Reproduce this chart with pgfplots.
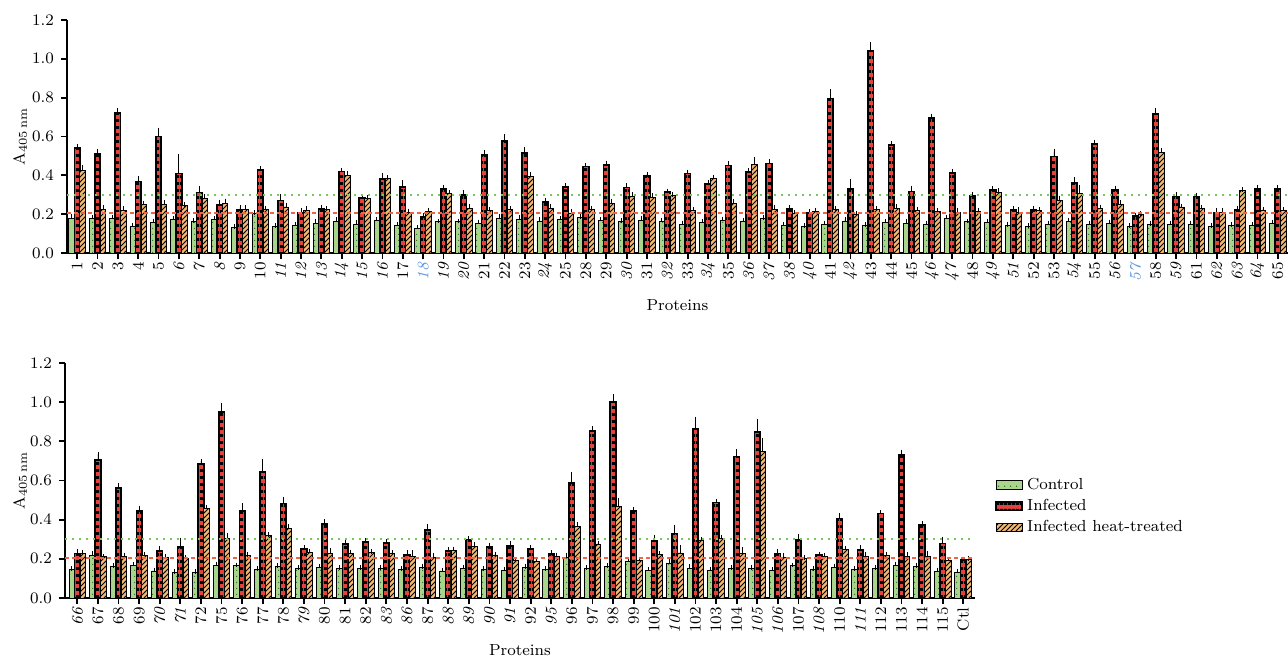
\documentclass[border=0pt]{standalone}
\usepackage{pgfplots}
\pgfplotsset{compat=1.18}
\usepackage{pgfplotstable}
\usetikzlibrary{patterns}

\definecolor{ctrlg}{RGB}{168,212,140}
\definecolor{ctrldot}{RGB}{60,110,50}
\definecolor{infred}{RGB}{228,66,58}
\definecolor{heato}{RGB}{242,184,112}
\definecolor{lineg}{RGB}{120,200,90}
\definecolor{liner}{RGB}{238,100,70}
\definecolor{lblue}{RGB}{90,150,225}

\pgfdeclarepatternformonly{hbands}{\pgfpointorigin}{\pgfqpoint{2pt}{3.3pt}}{\pgfqpoint{2pt}{3.3pt}}{%
  \pgfpathrectangle{\pgfpointorigin}{\pgfqpoint{2pt}{1.5pt}}\pgfusepath{fill}}
\pgfdeclarepatternformonly{hatch}{\pgfqpoint{-1pt}{-1pt}}{\pgfqpoint{3.5pt}{3.5pt}}{\pgfqpoint{2.5pt}{2.5pt}}{%
  \pgfsetlinewidth{0.45pt}\pgfpathmoveto{\pgfqpoint{0pt}{0pt}}\pgfpathlineto{\pgfqpoint{2.6pt}{2.6pt}}\pgfusepath{stroke}}
\pgfdeclarepatternformonly{gdots}{\pgfpointorigin}{\pgfqpoint{3pt}{3pt}}{\pgfqpoint{3pt}{3pt}}{%
  \pgfpathrectangle{\pgfqpoint{1.2pt}{1.2pt}}{\pgfqpoint{0.6pt}{0.6pt}}\pgfusepath{fill}}

% x c ce i ie h he
\pgfplotstableread{
x c ce i ie h he
1 0.180 0.008 0.540 0.010 0.425 0.015
2 0.177 0.008 0.510 0.012 0.226 0.012
3 0.180 0.006 0.720 0.015 0.220 0.010
4 0.137 0.008 0.369 0.015 0.249 0.010
5 0.158 0.008 0.600 0.035 0.249 0.012
6 0.171 0.008 0.410 0.090 0.243 0.006
7 0.160 0.008 0.312 0.020 0.283 0.010
8 0.171 0.008 0.249 0.015 0.257 0.012
9 0.132 0.005 0.223 0.012 0.226 0.008
10 0.202 0.006 0.429 0.010 0.223 0.010
11 0.135 0.006 0.271 0.020 0.237 0.008
12 0.142 0.008 0.206 0.012 0.220 0.010
13 0.153 0.010 0.226 0.012 0.223 0.006
14 0.163 0.010 0.420 0.006 0.398 0.012
15 0.146 0.015 0.283 0.006 0.279 0.006
16 0.166 0.008 0.380 0.020 0.382 0.008
17 0.144 0.006 0.339 0.025 0.209 0.008
18 0.127 0.006 0.185 0.008 0.213 0.008
19 0.160 0.006 0.329 0.010 0.305 0.008
20 0.160 0.006 0.300 0.015 0.231 0.008
21 0.154 0.006 0.504 0.015 0.218 0.008
22 0.180 0.008 0.578 0.026 0.226 0.006
23 0.171 0.012 0.514 0.020 0.394 0.010
24 0.165 0.010 0.262 0.010 0.231 0.008
25 0.171 0.008 0.339 0.008 0.206 0.010
26 0.182 0.006 0.446 0.008 0.223 0.006
27 0.168 0.006 0.454 0.010 0.257 0.008
28 0.160 0.008 0.338 0.010 0.291 0.012
29 0.166 0.012 0.398 0.008 0.286 0.012
30 0.163 0.006 0.314 0.006 0.295 0.006
31 0.149 0.006 0.410 0.008 0.220 0.006
32 0.158 0.008 0.357 0.006 0.382 0.010
33 0.168 0.008 0.451 0.010 0.257 0.008
34 0.165 0.006 0.418 0.006 0.458 0.026
35 0.177 0.006 0.461 0.012 0.226 0.012
36 0.144 0.006 0.226 0.010 0.204 0.006
37 0.135 0.006 0.206 0.008 0.214 0.008
38 0.149 0.006 0.795 0.036 0.223 0.006
39 0.165 0.008 0.331 0.038 0.197 0.008
40 0.141 0.006 1.040 0.036 0.223 0.008
41 0.158 0.006 0.557 0.006 0.231 0.008
42 0.154 0.008 0.317 0.015 0.220 0.006
43 0.149 0.006 0.696 0.010 0.213 0.006
44 0.178 0.006 0.411 0.010 0.211 0.010
45 0.160 0.006 0.295 0.006 0.213 0.006
46 0.158 0.006 0.326 0.006 0.312 0.010
47 0.141 0.006 0.223 0.010 0.211 0.015
48 0.135 0.006 0.223 0.010 0.218 0.010
49 0.149 0.006 0.497 0.026 0.271 0.012
50 0.165 0.006 0.360 0.020 0.305 0.034
51 0.149 0.006 0.562 0.008 0.231 0.006
52 0.154 0.006 0.326 0.010 0.249 0.012
53 0.135 0.006 0.189 0.006 0.197 0.006
54 0.146 0.006 0.717 0.020 0.518 0.010
55 0.149 0.006 0.291 0.012 0.237 0.006
56 0.149 0.006 0.291 0.008 0.231 0.006
57 0.135 0.006 0.206 0.012 0.211 0.008
58 0.141 0.006 0.220 0.012 0.322 0.006
59 0.142 0.006 0.329 0.010 0.218 0.010
60 0.154 0.006 0.329 0.010 0.220 0.006
}\toptab

\pgfplotstableread{
x c ce i ie h he
1 0.145 0.006 0.227 0.010 0.227 0.008
2 0.218 0.012 0.703 0.032 0.210 0.006
3 0.159 0.006 0.563 0.012 0.213 0.008
4 0.167 0.008 0.446 0.015 0.218 0.006
5 0.138 0.006 0.241 0.012 0.205 0.006
6 0.130 0.006 0.261 0.034 0.201 0.008
7 0.130 0.006 0.685 0.015 0.457 0.008
8 0.167 0.006 0.951 0.036 0.304 0.015
9 0.164 0.006 0.446 0.026 0.215 0.008
10 0.145 0.006 0.645 0.055 0.318 0.006
11 0.159 0.006 0.483 0.020 0.355 0.012
12 0.149 0.006 0.249 0.008 0.232 0.008
13 0.154 0.008 0.377 0.015 0.227 0.015
14 0.149 0.006 0.275 0.008 0.227 0.008
15 0.149 0.006 0.287 0.008 0.232 0.006
16 0.150 0.006 0.282 0.008 0.227 0.006
17 0.145 0.006 0.218 0.015 0.213 0.020
18 0.154 0.006 0.347 0.022 0.207 0.010
19 0.138 0.006 0.241 0.006 0.241 0.010
20 0.149 0.010 0.299 0.006 0.265 0.010
21 0.145 0.006 0.261 0.008 0.215 0.010
22 0.142 0.006 0.266 0.015 0.193 0.006
23 0.154 0.006 0.251 0.008 0.189 0.006
24 0.145 0.006 0.224 0.008 0.213 0.006
25 0.205 0.015 0.589 0.043 0.364 0.012
26 0.149 0.006 0.854 0.012 0.275 0.006
27 0.159 0.008 1.000 0.030 0.466 0.034
28 0.189 0.006 0.446 0.006 0.193 0.006
29 0.142 0.006 0.292 0.020 0.224 0.006
30 0.179 0.010 0.329 0.034 0.230 0.030
31 0.150 0.010 0.862 0.053 0.292 0.008
32 0.142 0.006 0.487 0.008 0.302 0.010
33 0.149 0.006 0.722 0.026 0.227 0.020
34 0.150 0.006 0.848 0.053 0.748 0.060
35 0.142 0.006 0.227 0.010 0.207 0.010
36 0.164 0.006 0.295 0.020 0.201 0.006
37 0.145 0.006 0.218 0.006 0.213 0.008
38 0.154 0.010 0.406 0.015 0.249 0.006
39 0.145 0.006 0.244 0.015 0.210 0.015
40 0.149 0.006 0.432 0.006 0.218 0.008
41 0.167 0.006 0.731 0.015 0.213 0.010
42 0.159 0.006 0.372 0.008 0.213 0.015
43 0.138 0.006 0.278 0.024 0.193 0.006
44 0.133 0.006 0.193 0.006 0.196 0.006
}\bottab

\pgfplotsset{
  myax/.style={
    scale only axis,
    ybar,
    ymin=0, ymax=1.2,
    ytick={0,0.2,...,1.2},
    yticklabel style={/pgf/number format/fixed,/pgf/number format/fixed zerofill,/pgf/number format/precision=1},
    axis lines*=left,
    axis line style={line width=1.1pt},
    tick align=outside,
    major tick length=3pt,
    every tick/.style={black, line width=0.9pt},
    ytick pos=left, xtick pos=bottom,
    tick label style={font=\fontsize{8}{9.6}\selectfont},
    xticklabel style={rotate=90, anchor=east, inner sep=1.5pt},
    label style={font=\fontsize{8}{9.6}\selectfont},
    ylabel={A$_{\mathrm{405\,nm}}$},
    xlabel={Proteins},
    xlabel style={at={(axis description cs:0.5,0)}, anchor=center, yshift=-26pt},
    clip=false,
  },
  ctrl/.style={draw=black, line width=0.45pt, fill=ctrlg, postaction={pattern=gdots, pattern color=ctrldot}, bar width=0.27, bar shift=-0.27,
     error bars/.cd, y dir=plus, y explicit, error bar style={black, line width=0.45pt}, error mark options={black, line width=0.45pt, mark size=1.1pt}},
  infe/.style={draw=black, line width=0.85pt, fill=infred, postaction={pattern=hbands, pattern color=black}, bar width=0.27, bar shift=0,
     error bars/.cd, y dir=plus, y explicit, error bar style={black, line width=0.45pt}, error mark options={black, line width=0.45pt, mark size=1.1pt}},
  heat/.style={draw=black, line width=0.45pt, fill=heato, postaction={pattern=hatch, pattern color=black}, bar width=0.27, bar shift=0.27,
     error bars/.cd, y dir=plus, y explicit, error bar style={black, line width=0.45pt}, error mark options={black, line width=0.45pt, mark size=1.1pt}},
}

\begin{document}
\begin{tikzpicture}
\useasboundingbox (0,0) rectangle (644pt,-328.5pt);

\begin{axis}[myax,
  at={(33.5pt,-126.5pt)}, anchor=south west,
  width=610.5pt, height=116.5pt,
  xmin=0.5, xmax=60.5,
  xtick={1,...,60},
  xticklabels={1,2,3,4,5,\textit{6},\textit{7},\textit{8},9,10,\textit{11},\textit{12},\textit{13},\textit{14},\textit{15},\textit{16},17,\textcolor{lblue}{\textit{18}},\textit{19},\textit{20},21,22,23,\textit{24},25,28,29,\textit{30},31,\textit{32},33,\textit{34},35,\textit{36},\textit{37},\textit{38},\textit{40},41,\textit{42},43,44,45,\textit{46},\textit{47},48,\textit{49},\textit{51},52,53,\textit{54},55,\textit{56},\textcolor{lblue}{\textit{57}},58,\textit{59},61,\textit{62},\textit{63},\textit{64},65},
  ylabel style={at={(axis description cs:0,0.5)}, anchor=center, yshift=23.5pt},
]
\addplot[ctrl] table[x=x, y=c, y error=ce] {\toptab};
\addplot[infe] table[x=x, y=i, y error=ie] {\toptab};
\addplot[heat] table[x=x, y=h, y error=he] {\toptab};
\addplot[sharp plot, forget plot, lineg, line width=1.1pt, dash pattern=on 0.9pt off 2.6pt] coordinates {(0.5,0.3) (60.5,0.3)};
\addplot[sharp plot, forget plot, liner, line width=0.9pt, dash pattern=on 2pt off 1.5pt] coordinates {(0.5,0.205) (60.5,0.205)};
\end{axis}

\begin{axis}[myax,
  at={(32.5pt,-299pt)}, anchor=south west,
  width=455pt, height=117.5pt,
  xmin=0.4, xmax=44.57,
  xtick={1,...,44},
  xticklabels={\textit{66},67,68,69,\textit{70},\textit{71},72,75,76,77,78,\textit{79},80,81,82,\textit{83},\textit{86},87,\textit{88},\textit{89},\textit{90},\textit{91},92,\textit{95},96,97,98,99,100,\textit{101},102,103,104,\textit{105},\textit{106},107,\textit{108},110,\textit{111},112,113,114,115,Ctl},
  ylabel style={at={(axis description cs:0,0.5)}, anchor=center, yshift=22.5pt},
  legend style={at={(1.022,0.39)}, anchor=west, draw=none, fill=none, font=\fontsize{8}{9.6}\selectfont, inner sep=0pt, row sep=-0.5pt, cells={anchor=west}},
  legend image code/.code={\draw[#1] (0pt,-2pt) rectangle (13pt,2.2pt);},
]
\addplot[ctrl] table[x=x, y=c, y error=ce] {\bottab};
\addplot[infe] table[x=x, y=i, y error=ie] {\bottab};
\addplot[heat] table[x=x, y=h, y error=he] {\bottab};
\addplot[sharp plot, forget plot, lineg, line width=1.1pt, dash pattern=on 0.9pt off 2.6pt] coordinates {(0.4,0.3) (44.57,0.3)};
\addplot[sharp plot, forget plot, liner, line width=0.9pt, dash pattern=on 2pt off 1.5pt] coordinates {(0.4,0.205) (44.57,0.205)};
\legend{Control, Infected, Infected heat-treated}
\end{axis}
\end{tikzpicture}
\end{document}
